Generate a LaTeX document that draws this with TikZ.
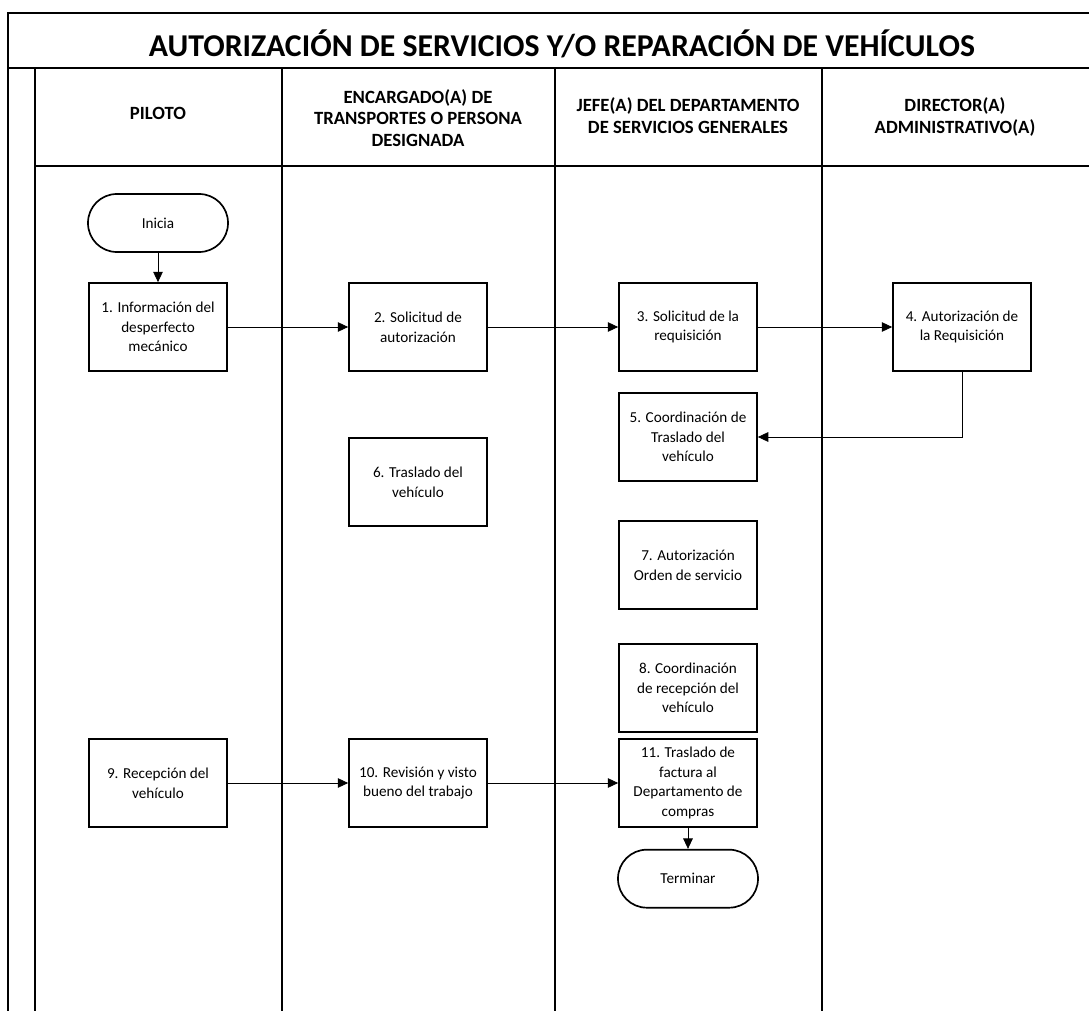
\documentclass[tikz,border=0pt]{standalone}
\usepackage{fontspec}
\setmainfont{Carlito}
\usetikzlibrary{positioning, arrows.meta}

\begin{document}
\begin{tikzpicture}[x=0.25mm, y=-0.25mm, node distance={7.25mm},
    main/.style = {draw, fill=white, line width=1.2pt, minimum width=34.5mm, minimum height=22mm, align=center, font=\fontsize{10.8}{14}\selectfont},
    term/.style = {draw, fill=white, line width=1.2pt, rounded corners=7.2mm, minimum width=35mm, minimum height=14.5mm, font=\fontsize{10.8}{14}\selectfont},
    head/.style = {align=center, font=\bfseries\fontsize{13.3}{15.5}\selectfont},
    lane/.style = {line width=0.9pt},
    flow/.style = {line width=0.6pt, -{Triangle[length=2.6mm, width=2.4mm]}}]
    \useasboundingbox (0,0) rectangle (1089,1011);
    % marco y carriles
    \draw[lane] (1089,13) -- (8,13) -- (8,1011);
    \draw[lane] (8,68) -- (1089,68);
    \draw[lane] (35,68) -- (35,1011);
    \draw[lane] (35,166) -- (1089,166);
    \foreach \x in {282,555,822}
        \draw[lane] (\x,68) -- (\x,1011);
    % encabezados
    \node[font=\bfseries\fontsize{22.6}{26}\selectfont] (title) at (562,44) {AUTORIZACIÓN DE SERVICIOS Y/O REPARACIÓN DE VEHÍCULOS};
    \node[head] (hp) at (158,113) {PILOTO};
    \node[head] (ht) at (418,118) {ENCARGADO(A) DE\\TRANSPORTES O PERSONA\\DESIGNADA};
    \node[head] (hj) at (688,116) {JEFE(A) DEL DEPARTAMENTO\\DE SERVICIOS GENERALES};
    \node[head] (hd) at (955,117) {DIRECTOR(A)\\ADMINISTRATIVO(A)};
    % pasos
    \node[term] (ini) at (158,223) {Inicia};
    \node[main] (1p) at (158,327) {1. Información del\\desperfecto\\mecánico};
    \node[main] (2t) at (418,327) {2. Solicitud de\\autorización};
    \node[main] (3j) at (688,327) {3. Solicitud de la\\requisición};
    \node[main] (4d) at (962,327) {4. Autorización de\\la Requisición};
    \node[main] (5j) at (688,437) {5. Coordinación de\\Traslado del\\vehículo};
    \node[main] (6t) at (418,482) {6. Traslado del\\vehículo};
    \node[main] (7j) at (688,565) {7. Autorización\\Orden de servicio};
    \node[main] (8j) at (688,688) {8. Coordinación\\de recepción del\\vehículo};
    \node[main] (9p) at (158,783) {9. Recepción del\\vehículo};
    \node[main] (10t) at (418,783) {10. Revisión y visto\\bueno del trabajo};
    \node[main] (11j) at (688,783) {11. Traslado de\\factura al\\Departamento de\\compras};
    \node[term] (fin) [below=5.25mm of 11j] {Terminar};
    % flujo
    \draw[flow] (ini) -- (1p);
    \draw[flow] (1p) -- (2t);
    \draw[flow] (2t) -- (3j);
    \draw[flow] (3j) -- (4d);
    \draw[flow] (4d) |- (5j);
    \draw[flow] (9p) -- (10t);
    \draw[flow] (10t) -- (11j);
    \draw[flow] (11j) -- (fin);
\end{tikzpicture}
\end{document}
